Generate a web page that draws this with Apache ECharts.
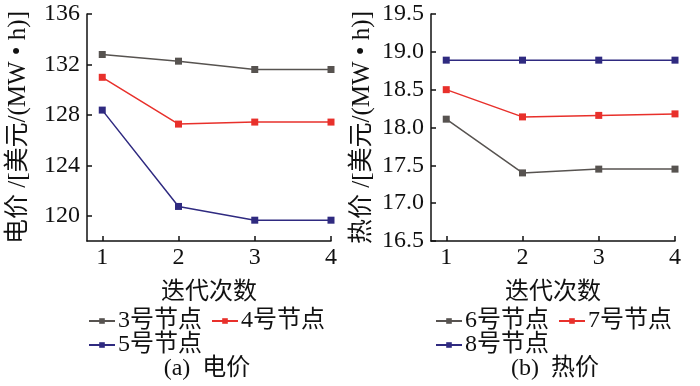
<!DOCTYPE html>
<html><head><meta charset="utf-8">
<script src="https://cdn.jsdelivr.net/npm/echarts@6/dist/echarts.min.js"></script>
<style>html,body{margin:0;padding:0;background:#fff}#c{width:700px;height:386px}</style>
</head><body><div id="c"></div>
<script>
const iterations = [1, 2, 3, 4];
const elecTicks = [120, 124, 128, 132, 136];
const heatTicks = [16.5, 17.0, 17.5, 18.0, 18.5, 19.0, 19.5];
const elecNames = ['3号节点', '4号节点', '5号节点'];
const heatNames = ['6号节点', '7号节点', '8号节点'];
const node3 = [132.79, 132.26, 131.60, 131.60];
const node4 = [130.98, 127.27, 127.43, 127.43];
const node5 = [128.38, 120.74, 119.65, 119.65];
const node6 = [18.11, 17.40, 17.45, 17.45];
const node7 = [18.50, 18.14, 18.16, 18.18];
const node8 = [18.89, 18.89, 18.89, 18.89];
const colors = ['#575350', '#e8302b', '#2f2a80'];

const FONT = "'Liberation Serif', 'Noto Sans CJK SC', serif";
const FS = 24;
const chart = echarts.init(document.getElementById('c'), null, {renderer: 'canvas'});

function xAxis(gi) {
  return {
    type: 'value', gridIndex: gi, min: 0.8, max: 4,
    name: '迭代次数', nameLocation: 'middle', nameGap: 40,
    nameTextStyle: {fontFamily: FONT, fontSize: 24, color: '#111'},
    axisLine: {lineStyle: {color: '#111', width: 1.5}},
    axisTick: {inside: true, length: 5, lineStyle: {color: '#111', width: 1.5}, customValues: iterations},
    axisLabel: {fontFamily: FONT, fontSize: FS, color: '#111', margin: 5, customValues: iterations},
    splitLine: {show: false}
  };
}
function yAxis(gi, name, min, max, ticks, fmt) {
  return {
    type: 'value', gridIndex: gi, min: min, max: max,
    name: name, nameLocation: 'middle', nameGap: 56, nameRotate: 90,
    nameTextStyle: {fontFamily: FONT, fontSize: 25, color: '#111'},
    axisLine: {show: true, lineStyle: {color: '#111', width: 1.5}},
    axisTick: {show: true, inside: true, length: 5, lineStyle: {color: '#111', width: 1.5}, customValues: ticks},
    axisLabel: {fontFamily: FONT, fontSize: FS, color: '#111', margin: 7, customValues: ticks, formatter: fmt},
    splitLine: {show: false}
  };
}
function series(name, vals, ci, gi) {
  return {
    type: 'line', name: name, xAxisIndex: gi, yAxisIndex: gi,
    data: iterations.map((x, i) => [x, vals[i]]),
    symbol: 'rect', symbolSize: 7, showSymbol: true,
    lineStyle: {color: colors[ci], width: 1.5},
    itemStyle: {color: colors[ci]},
    animation: false
  };
}
function legend(data, left, top) {
  return {
    data: data, left: left, top: top, orient: 'horizontal', itemGap: 9,
    itemWidth: 26, itemHeight: 7, padding: 0,
    textStyle: {fontFamily: FONT, fontSize: 24, color: '#111', padding: [0, 0, 0, -2]}
  };
}
chart.setOption({
  backgroundColor: '#fff',
  animation: false,
  grid: [
    {left: 87, top: 14, width: 244, height: 227},
    {left: 431, top: 14, width: 244, height: 227}
  ],
  xAxis: [xAxis(0), xAxis(1)],
  yAxis: [
    yAxis(0, '电价 /[美元/(MW • h)]', 118, 136, elecTicks, v => String(v)),
    yAxis(1, '热价 /[美元/(MW • h)]', 16.5, 19.5, heatTicks, v => v.toFixed(1))
  ],
  legend: [
    legend([elecNames[0], elecNames[1]], 88, 309),
    legend([elecNames[2]], 88, 333),
    legend([heatNames[0], heatNames[1]], 435, 309),
    legend([heatNames[2]], 435, 333)
  ],
  title: [
    {text: '(a)  电价', left: 207, top: 357, textAlign: 'center', padding: 0,
     textStyle: {fontFamily: FONT, fontSize: 24, fontWeight: 'normal', color: '#111'}},
    {text: '(b)  热价', left: 555, top: 357, textAlign: 'center', padding: 0,
     textStyle: {fontFamily: FONT, fontSize: 24, fontWeight: 'normal', color: '#111'}}
  ],
  series: [
    series(elecNames[0], node3, 0, 0),
    series(elecNames[1], node4, 1, 0),
    series(elecNames[2], node5, 2, 0),
    series(heatNames[0], node6, 0, 1),
    series(heatNames[1], node7, 1, 1),
    series(heatNames[2], node8, 2, 1)
  ]
});
</script></body></html>
